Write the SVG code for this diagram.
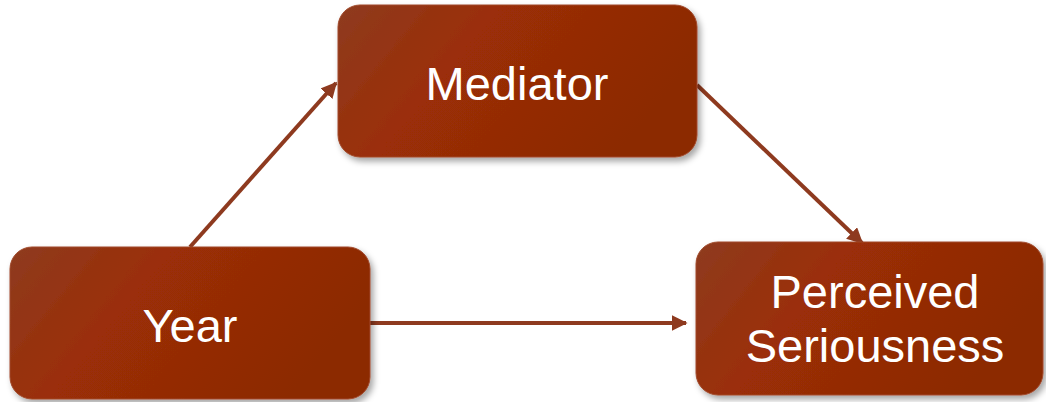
<svg xmlns="http://www.w3.org/2000/svg" width="1046" height="402" viewBox="0 0 1046 402">
<defs>
<linearGradient id="g" x1="0" y1="0" x2="1" y2="0.35">
<stop offset="0" stop-color="#8e3b1f"/>
<stop offset="0.4" stop-color="#9b2e07"/>
<stop offset="1" stop-color="#8c2904"/>
</linearGradient>
<filter id="sh" x="-10%" y="-10%" width="125%" height="130%">
<feDropShadow dx="3" dy="4" stdDeviation="3" flood-color="#000" flood-opacity="0.35"/>
</filter>
<marker id="ah" viewBox="0 0 10 10" refX="9" refY="5" markerWidth="4" markerHeight="4" orient="auto" markerUnits="strokeWidth">
<path d="M0,0 L10,5 L0,10 z" fill="#8e3a1f"/>
</marker>
<style>
.box{fill:url(#g);stroke:#a0492a;stroke-width:1;filter:url(#sh)}
.lbl{font-family:"Liberation Sans",Arial,sans-serif;font-size:47px;fill:#ffffff;text-anchor:middle}
.conn{stroke:#8e3a1f;stroke-width:4;fill:none;marker-end:url(#ah)}
</style>
</defs>
<g id="connectors">
<line class="conn" x1="190" y1="247" x2="336" y2="83"/>
<line class="conn" x1="370" y1="323" x2="686" y2="323"/>
<line class="conn" x1="697" y1="85" x2="862" y2="243"/>
</g>
<g id="mediator">
<rect class="box" x="338" y="5" width="359" height="152" rx="22"/>
<text class="lbl" x="517" y="100">Mediator</text>
</g>
<g id="year">
<rect class="box" x="10" y="247" width="360" height="152" rx="22"/>
<text class="lbl" x="190" y="342">Year</text>
</g>
<g id="perceived">
<rect class="box" x="696" y="242" width="347" height="153" rx="22"/>
<text class="lbl" x="875" y="308">Perceived</text>
<text class="lbl" x="875" y="362">Seriousness</text>
</g>
</svg>
